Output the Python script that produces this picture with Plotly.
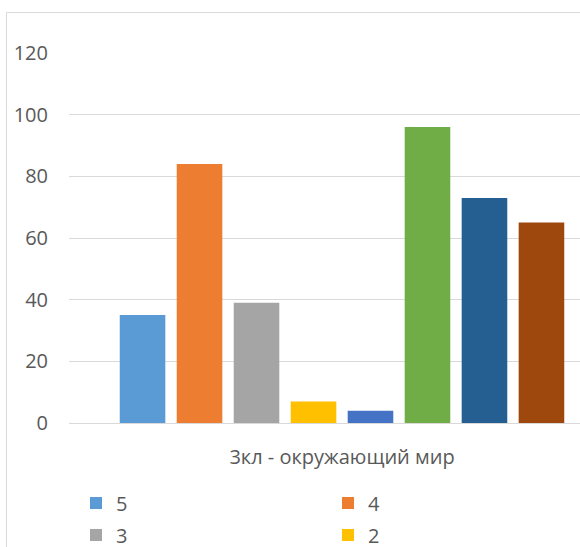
import plotly.graph_objects as go

category = ["3кл - окружающий мир"]
series_names = ["5", "4", "3", "2", "1", "Успеваемость", "Качество", "СОУ"]
series_values = [35, 84, 39, 7, 4, 96, 73, 65]
series_colors = ["#5B9BD5", "#ED7D31", "#A5A5A5", "#FFC000",
                 "#4472C4", "#70AD47", "#255E91", "#9E480E"]
legend_rows = ["legend", "legend", "legend2", "legend2"]
y_ticks = [0, 20, 40, 60, 80, 100, 120]

FONT = "Open Sans, Liberation Sans, sans-serif"
TXT = "#595959"

fig = go.Figure()
for i, (name, val, col) in enumerate(zip(series_names, series_values, series_colors)):
    fig.add_trace(go.Bar(
        x=category, y=[val], name=name, marker=dict(color=col, line=dict(width=0)),
        showlegend=(i < 4), legend=(legend_rows[i] if i < 4 else "legend"),
    ))

L, T, B = 69, 53, 124
W, H = 580, 547
pw = W - L
ph = H - T - B


def px_x(x):
    return (x - L) / pw


def px_y(y):
    return (T + ph - y) / ph


leg_common = dict(orientation="h", xanchor="left", yanchor="middle",
                  entrywidth=207, entrywidthmode="pixels",
                  font=dict(size=20, color=TXT), bgcolor="rgba(0,0,0,0)")

fig.update_layout(
    width=W, height=H,
    margin=dict(l=L, r=0, t=T, b=B, autoexpand=False),
    paper_bgcolor="white", plot_bgcolor="white",
    barmode="group", bargap=0.165, bargroupgap=0.2,
    font=dict(family=FONT, size=20, color=TXT),
    xaxis=dict(range=[-0.5, -0.5 + pw / 546.0], showgrid=False, showline=False,
               zeroline=False, ticks="", ticklabelstandoff=20,
               tickfont=dict(size=20, color=TXT)),
    yaxis=dict(range=[0, 120], tickvals=y_ticks, showgrid=True, gridcolor="#D9D9D9",
               gridwidth=1, zeroline=True, zerolinecolor="#D9D9D9", zerolinewidth=1,
               showline=False, ticks="", ticklabelstandoff=20,
               tickfont=dict(size=20, color=TXT)),
    legend=dict(x=px_x(76), y=px_y(503), **leg_common),
    legend2=dict(x=px_x(76), y=px_y(535), **leg_common),
    shapes=[dict(type="rect", xref="paper", yref="paper",
                 x0=px_x(6.5), x1=1.2,
                 y0=-0.5, y1=px_y(12.5),
                 line=dict(color="#D9D9D9", width=1), fillcolor="rgba(0,0,0,0)",
                 layer="below")],
)

fig.write_html("out.html", config={"displayModeBar": False},
               post_script="document.body.style.margin='0';")
